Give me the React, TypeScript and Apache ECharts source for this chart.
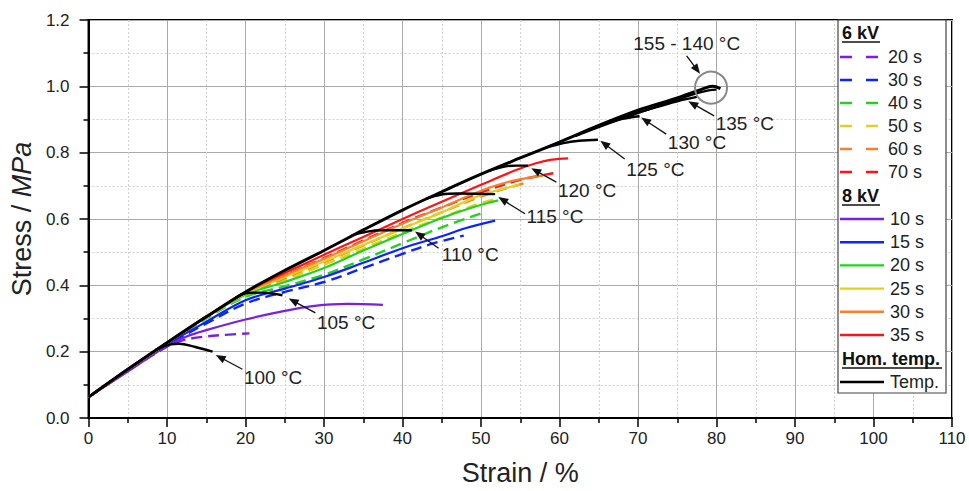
import React, { useEffect, useRef } from 'react';
import * as echarts from 'echarts';

const FONT = '"Liberation Sans", Arial, Helvetica, sans-serif';

// ---- tick labels ----
const xTicks = [0, 10, 20, 30, 40, 50, 60, 70, 80, 90, 100, 110];
const yTicks = [0.0, 0.2, 0.4, 0.6, 0.8, 1.0, 1.2];

// ---- legend categories ----
const kv6Names = ['20 s', '30 s', '40 s', '50 s', '60 s', '70 s'];
const kv8Names = ['10 s', '15 s', '20 s', '25 s', '30 s', '35 s'];
const homName = 'Temp.';
const palette = ['#7b1fe0', '#0a24ff', '#1ed41e', '#e3d21c', '#f5822a', '#ff1414'];

// ---- 6 kV (dashed) curves: [strain %, stress MPa] ----
const kv6_20s = [[0, 0.063], [5, 0.142], [10, 0.215], [12, 0.234], [14, 0.243], [17, 0.25], [20.5, 0.255]];
const kv6_30s = [[0, 0.063], [5, 0.145], [10, 0.22], [15, 0.285], [20, 0.345], [25, 0.38], [30, 0.41], [35, 0.452], [40, 0.495], [44, 0.527], [47.8, 0.55]];
const kv6_40s = [[0, 0.063], [5, 0.145], [10, 0.224], [15, 0.3], [20, 0.365], [25, 0.397], [30, 0.432], [35, 0.478], [40, 0.527], [45, 0.575], [50.5, 0.621]];
const kv6_50s = [[0, 0.063], [5, 0.146], [10, 0.225], [15, 0.303], [20, 0.37], [25, 0.415], [30, 0.462], [35, 0.51], [40, 0.56], [45, 0.605], [50, 0.648], [52.5, 0.663]];
const kv6_60s = [[0, 0.063], [5, 0.146], [10, 0.226], [15, 0.304], [20, 0.373], [25, 0.422], [30, 0.47], [35, 0.52], [40, 0.572], [45, 0.62], [50, 0.668], [55.5, 0.708]];
const kv6_70s = [[0, 0.063], [5, 0.146], [10, 0.227], [15, 0.305], [20, 0.376], [25, 0.43], [30, 0.482], [35, 0.535], [40, 0.588], [45, 0.635], [50, 0.68], [55, 0.718], [59.2, 0.738]];

// ---- 8 kV (solid) curves ----
const kv8_10s = [[0, 0.063], [5, 0.14], [10, 0.218], [12.5, 0.246], [15, 0.265], [20, 0.297], [25, 0.323], [28.8, 0.338], [33, 0.344], [37.5, 0.341]];
const kv8_15s = [[0, 0.063], [5, 0.145], [10, 0.222], [15, 0.29], [20, 0.355], [25, 0.39], [30, 0.425], [35, 0.468], [40, 0.512], [45, 0.548], [48, 0.572], [51.8, 0.595]];
const kv8_20s = [[0, 0.063], [5, 0.146], [10, 0.225], [15, 0.305], [20, 0.372], [25, 0.41], [30, 0.452], [35, 0.505], [40, 0.555], [45, 0.603], [48, 0.628], [50.5, 0.646], [52.2, 0.656]];
const kv8_25s = [[0, 0.063], [5, 0.146], [10, 0.225], [15, 0.305], [20, 0.375], [25, 0.425], [30, 0.472], [35, 0.522], [40, 0.571], [45, 0.62], [50, 0.672], [54.9, 0.703]];
const kv8_30s = [[0, 0.063], [5, 0.146], [10, 0.226], [15, 0.306], [20, 0.377], [25, 0.43], [30, 0.48], [35, 0.533], [40, 0.586], [45, 0.635], [50, 0.685], [54, 0.715], [57.9, 0.731]];
const kv8_35s = [[0, 0.063], [5, 0.147], [10, 0.228], [15, 0.306], [20, 0.38], [25, 0.437], [30, 0.492], [35, 0.546], [40, 0.6], [45, 0.652], [50, 0.703], [54.3, 0.746], [57, 0.768], [59, 0.779], [61.1, 0.783]];

// ---- homogeneous temperature curves (black) ----
const homMaster = [[0, 0.063], [5, 0.147], [10, 0.227], [15, 0.305], [20, 0.38], [25, 0.445], [30, 0.505], [35, 0.567], [40, 0.627], [45, 0.682], [50, 0.735], [55, 0.784], [60, 0.832], [65, 0.882], [70, 0.928], [75, 0.965], [78, 0.99], [79.5, 1.0], [80.5, 0.993]];
const hom100 = [[8.5, 0.205], [10.5, 0.222], [11.5, 0.224], [13.6, 0.214], [15.8, 0.2]];
const hom105 = [[18.5, 0.358], [20.2, 0.377], [22, 0.378], [24.7, 0.37]];
const hom110 = [[33.5, 0.55], [35.5, 0.562], [37.5, 0.566], [41.2, 0.566]];
const hom115 = [[43, 0.661], [45, 0.674], [47, 0.677], [51.8, 0.675]];
const hom120 = [[51, 0.745], [53, 0.758], [54.5, 0.761], [56, 0.761]];
const hom125 = [[58, 0.813], [60.5, 0.829], [62.5, 0.836], [64.9, 0.839]];
const hom130 = [[63.5, 0.867], [66, 0.888], [68, 0.902], [70.2, 0.91]];
const hom135 = [[68, 0.905], [72, 0.935], [75, 0.955], [77.5, 0.968]];
const hom140 = [[62, 0.85], [66, 0.886], [70, 0.92], [74, 0.952], [77, 0.976], [79, 0.988], [80, 0.99]];

const kv6Data = [kv6_20s, kv6_30s, kv6_40s, kv6_50s, kv6_60s, kv6_70s];
const kv8Data = [kv8_10s, kv8_15s, kv8_20s, kv8_25s, kv8_30s, kv8_35s];
const homBranches = [hom100, hom105, hom110, hom115, hom120, hom125, hom130, hom135, hom140];

// ---- annotations (data coordinates) ----
const annotations = [
  { text: '100 °C', label: [19.8, 0.123], tail: [19.6, 0.147], tip: [16.2, 0.19] },
  { text: '105 °C', label: [29.1, 0.287], tail: [28.9, 0.317], tip: [25.5, 0.36] },
  { text: '110 °C', label: [45.0, 0.494], tail: [44.6, 0.512], tip: [41.6, 0.562] },
  { text: '115 °C', label: [55.8, 0.607], tail: [55.6, 0.616], tip: [52.2, 0.666] },
  { text: '120 °C', label: [59.8, 0.685], tail: [59.6, 0.711], tip: [56.4, 0.753] },
  { text: '125 °C', label: [68.5, 0.748], tail: [68.3, 0.781], tip: [65.2, 0.836] },
  { text: '130 °C', label: [73.8, 0.832], tail: [73.6, 0.856], tip: [70.4, 0.906] },
  { text: '135 °C', label: [79.9, 0.889], tail: [79.7, 0.911], tip: [76.4, 0.955] },
];
const topNote = { text: '155 - 140 °C', label: [76.2, 1.128], tail: [76.2, 1.092], tip: [77.9, 1.038] };
const circleCenter = [79.3, 0.996];

export default function App() {
  const ref = useRef<HTMLDivElement>(null);

  useEffect(() => {
    if (!ref.current) return;
    document.body.style.margin = '0';
    document.body.style.overflow = 'hidden';
    const chart = echarts.init(ref.current, undefined, { renderer: 'svg' });

    const series: any[] = [];
    kv6Data.forEach((d, i) => {
      series.push({
        type: 'line', name: '6kV ' + kv6Names[i], data: d, smooth: 0.35, showSymbol: false,
        lineStyle: { color: palette[i], width: 2.4, type: [11, 6] }, z: 2,
      });
    });
    kv8Data.forEach((d, i) => {
      series.push({
        type: 'line', name: '8kV ' + kv8Names[i], data: d, smooth: 0.35, showSymbol: false,
        lineStyle: { color: palette[i], width: 2.2 }, z: 3,
      });
    });
    series.push({
      type: 'line', name: homName, data: homMaster, smooth: 0.35, showSymbol: false,
      lineStyle: { color: '#000', width: 3 }, z: 4,
    });
    homBranches.forEach((d, i) => {
      series.push({
        type: 'line', name: homName + i, data: d, smooth: 0.4, showSymbol: false,
        lineStyle: { color: '#000', width: 2.4 }, z: 4,
      });
    });

    const axisCommon = {
      axisLine: { show: true, onZero: false, lineStyle: { color: '#000', width: 2 } },
      axisTick: { show: true, inside: false, length: 9, lineStyle: { color: '#000', width: 1.5 } },
      minorTick: { show: true, splitNumber: 2, length: 5, lineStyle: { color: '#000', width: 1.5 } },
      splitLine: { show: true, lineStyle: { color: '#aaaaaa', width: 1 } },
      minorSplitLine: { show: true, lineStyle: { color: '#d0d0d0', width: 1, type: [2, 2] } },
    };

    chart.setOption({
      animation: false,
      backgroundColor: '#fff',
      grid: { left: 86, right: 17, top: 20, bottom: 70, show: true, borderColor: '#000', borderWidth: 2, backgroundColor: 'transparent' },
      xAxis: {
        type: 'value', min: xTicks[0], max: xTicks[xTicks.length - 1], interval: 10,
        ...axisCommon,
        axisLabel: { fontSize: 17, fontFamily: FONT, color: '#222', margin: 12 },
        name: 'Strain / %', nameLocation: 'middle', nameGap: 41,
        nameTextStyle: { fontSize: 27, fontFamily: FONT, color: '#222' },
      },
      yAxis: {
        type: 'value', min: yTicks[0], max: yTicks[yTicks.length - 1], interval: 0.2,
        ...axisCommon,
        axisLabel: { fontSize: 17, fontFamily: FONT, color: '#222', margin: 19, formatter: (v: number) => v.toFixed(1) },
        name: '{a|Stress / }{b|MPa}', nameLocation: 'middle', nameGap: 52,
        nameTextStyle: {
          fontSize: 27, fontFamily: FONT, color: '#222',
          rich: {
            a: { fontSize: 27, fontFamily: FONT, color: '#222' },
            b: { fontSize: 27, fontFamily: FONT, color: '#222', fontStyle: 'italic' },
          },
        },
      },
      series,
    });

    const px = (p: number[]) => chart.convertToPixel({ gridIndex: 0 }, p) as number[];
    const graphics: any[] = [];

    const arrow = (tailD: number[], tipD: number[]) => {
      const t = px(tailD), h = px(tipD);
      const dx = h[0] - t[0], dy = h[1] - t[1];
      const len = Math.hypot(dx, dy);
      const ux = dx / len, uy = dy / len;
      const hl = 10, hw = 4;
      const bx = h[0] - ux * hl, by = h[1] - uy * hl;
      graphics.push({
        type: 'line', z: 50, silent: true,
        shape: { x1: t[0], y1: t[1], x2: bx + ux * 2, y2: by + uy * 2 },
        style: { stroke: '#111', lineWidth: 1.3 },
      });
      graphics.push({
        type: 'polygon', z: 50, silent: true,
        shape: { points: [[h[0], h[1]], [bx - uy * hw, by + ux * hw], [bx + uy * hw, by - ux * hw]] },
        style: { fill: '#111' },
      });
    };

    annotations.forEach((a) => {
      arrow(a.tail, a.tip);
      const p = px(a.label);
      graphics.push({
        type: 'text', z: 50, silent: true, x: p[0], y: p[1],
        style: { text: a.text, fontSize: 19, fontFamily: FONT, fill: '#222', align: 'left', verticalAlign: 'middle' },
      });
    });
    arrow(topNote.tail, topNote.tip);
    const tp = px(topNote.label);
    graphics.push({
      type: 'text', z: 50, silent: true, x: tp[0], y: tp[1],
      style: { text: topNote.text, fontSize: 19, fontFamily: FONT, fill: '#222', align: 'center', verticalAlign: 'middle' },
    });
    const cc = px(circleCenter);
    graphics.push({
      type: 'circle', z: 50, silent: true,
      shape: { cx: cc[0], cy: cc[1], r: 16 },
      style: { fill: 'none', stroke: '#888', lineWidth: 2 },
    });

    // ---- legend ----
    const lx = 838, ly = 20, lw = 108, lh = 373;
    graphics.push({
      type: 'rect', z: 60, silent: true,
      shape: { x: lx, y: ly, width: lw, height: lh },
      style: { fill: '#fff', stroke: '#444', lineWidth: 1.2 },
    });
    const header = (text: string, y: number, w: number) => {
      graphics.push({
        type: 'text', z: 61, silent: true, x: 842, y,
        style: { text, fontSize: 18, fontWeight: 'bold', fontFamily: FONT, fill: '#111', align: 'left', verticalAlign: 'middle' },
      });
      graphics.push({
        type: 'line', z: 61, silent: true,
        shape: { x1: 842, y1: y + 9, x2: 842 + w, y2: y + 9 },
        style: { stroke: '#111', lineWidth: 1.5 },
      });
    };
    const entry = (text: string, y: number, color: string, dashed: boolean) => {
      graphics.push({
        type: 'line', z: 61, silent: true,
        shape: { x1: 840, y1: y, x2: dashed ? 879 : 884, y2: y },
        style: { stroke: color, lineWidth: 2.4, lineDash: dashed ? [12, 14] : null },
      });
      graphics.push({
        type: 'text', z: 61, silent: true, x: dashed ? 888 : 890, y,
        style: { text, fontSize: 18, fontFamily: FONT, fill: '#222', align: 'left', verticalAlign: 'middle' },
      });
    };
    header('6 kV', 33, 38);
    kv6Names.forEach((n, i) => entry(n, 57 + i * 23, palette[i], true));
    header('8 kV', 196, 38);
    kv8Names.forEach((n, i) => entry(n, 219 + i * 23.2, palette[i], false));
    header('Hom. temp.', 359, 100);
    entry(homName, 382, '#000', false);

    chart.setOption({ graphic: graphics });

    return () => chart.dispose();
  }, []);

  return <div ref={ref} style={{ position: 'fixed', left: 0, top: 0, width: 969, height: 491 }} />;
}
